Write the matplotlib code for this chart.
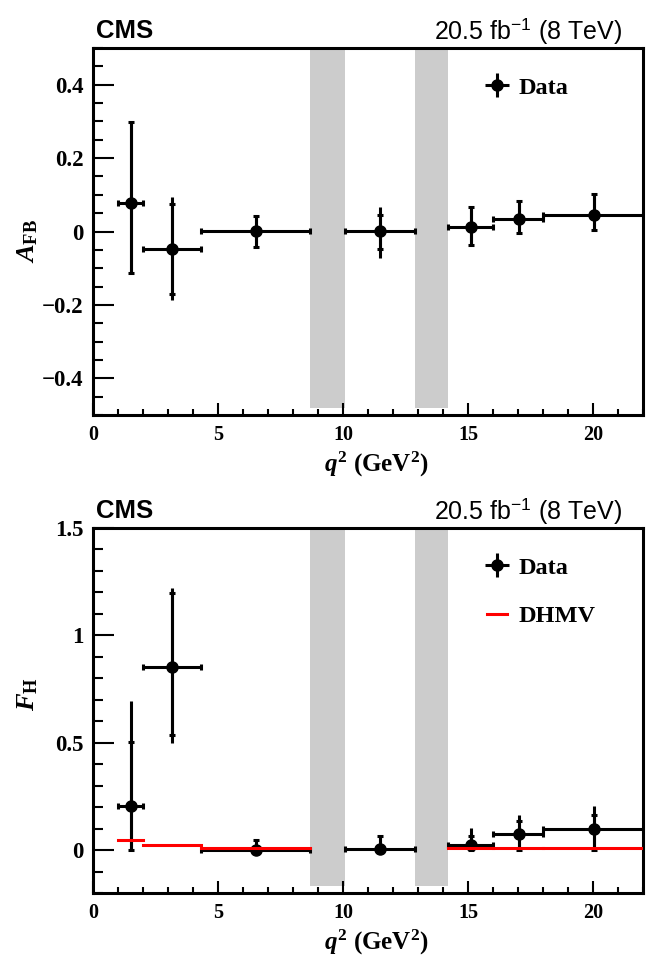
import numpy as np
import matplotlib
matplotlib.use("Agg")
import matplotlib.pyplot as plt
from matplotlib.ticker import MultipleLocator

plt.rcParams['mathtext.fontset'] = 'custom'
plt.rcParams['mathtext.rm'] = 'Liberation Serif:bold'
plt.rcParams['mathtext.it'] = 'Liberation Serif:bold:italic'
plt.rcParams['mathtext.bf'] = 'Liberation Serif:bold'
plt.rcParams['mathtext.sf'] = 'Liberation Sans'
plt.rcParams['axes.unicode_minus'] = True

# ---------------- data ----------------
q2_lo = [1.0, 2.0, 4.3, 10.09, 14.18, 16.0, 18.0]
q2_hi = [2.0, 4.3, 8.68, 12.86, 16.0, 18.0, 22.0]
q2_mean = [1.50, 3.16, 6.51, 11.49, 15.12, 17.04, 20.04]

veto_lo = [8.68, 12.86]
veto_hi = [10.09, 14.18]

afb = [0.077, -0.047, 0.001, 0.001, 0.012, 0.035, 0.045]
afb_tot_up = [0.221, 0.142, 0.041, 0.065, 0.054, 0.048, 0.056]
afb_tot_dn = [0.191, 0.141, 0.044, 0.073, 0.049, 0.039, 0.042]
afb_stat_up = [0.221, 0.122, 0.041, 0.045, 0.054, 0.048, 0.056]
afb_stat_dn = [0.191, 0.123, 0.044, 0.050, 0.049, 0.039, 0.042]

fh = [0.206, 0.851, 0.0, 0.005, 0.025, 0.074, 0.100]
fh_tot_up = [0.487, 0.368, 0.046, 0.061, 0.077, 0.088, 0.106]
fh_tot_dn = [0.206, 0.354, 0.0, 0.005, 0.025, 0.074, 0.100]
fh_stat_up = [0.297, 0.345, 0.046, 0.061, 0.039, 0.061, 0.062]
fh_stat_dn = [0.206, 0.313, 0.0, 0.005, 0.025, 0.074, 0.100]

dhmv = [0.046, 0.023, 0.010, np.nan, 0.008, 0.008, 0.008]

lumi_text = r'20.5 fb$^{\mathsf{-1}}$ (8 TeV)'

# ---------------- style ----------------
W, H = 646, 960
fig = plt.figure(figsize=(W / 100, H / 100), dpi=100)
ax1 = fig.add_axes([93 / W, 1 - 415 / H, 550 / W, 367 / H])
ax2 = fig.add_axes([93 / W, 1 - 893 / H, 550 / W, 365 / H])

SERIF = 'Liberation Serif'
SANS = 'Liberation Sans'
LW = 2.2
GRAY = '#cccccc'
LEGPROP = {'family': SERIF, 'weight': 'bold', 'size': 17.5}

x = np.array(q2_mean)
xerr = [x - np.array(q2_lo), np.array(q2_hi) - x]


def fmt_tick(v, pos):
    if abs(v) < 1e-9:
        return '0'
    s = '%g' % round(v, 3)
    return s.replace('-', '\u2212')


def style_axes(ax, ylim, ymaj, ymin):
    ax.set_xlim(0, 22)
    ax.set_ylim(*ylim)
    ax.xaxis.set_major_locator(MultipleLocator(5))
    ax.xaxis.set_minor_locator(MultipleLocator(1))
    ax.yaxis.set_major_locator(MultipleLocator(ymaj))
    ax.yaxis.set_minor_locator(MultipleLocator(ymin))
    ax.xaxis.set_major_formatter(plt.FuncFormatter(fmt_tick))
    ax.yaxis.set_major_formatter(plt.FuncFormatter(fmt_tick))
    for s in ax.spines.values():
        s.set_linewidth(LW)
    ax.tick_params(axis='both', which='both', direction='in', top=False, right=False,
                   width=1.5)
    ax.tick_params(axis='x', which='major', length=8.6, pad=7, labelsize=14.5)
    ax.tick_params(axis='x', which='minor', length=4.3)
    ax.tick_params(axis='y', which='major', length=15, pad=7, labelsize=16.5)
    ax.tick_params(axis='y', which='minor', length=7.2)
    for lab in ax.get_xticklabels() + ax.get_yticklabels():
        lab.set_fontfamily(SERIF)
        lab.set_fontweight('bold')
    ax.set_xlabel(r'$q^2$ (GeV$^2$)', fontsize=18, fontfamily=SERIF, fontweight='bold')
    ax.xaxis.set_label_coords(0.515, -0.095)


def draw_panel(ax, vals, tdn, tup, sdn, sup):
    for lo, hi in zip(veto_lo, veto_hi):
        ax.axvspan(lo, hi, ymin=0.02, ymax=1.0, color=GRAY, lw=0, zorder=1)
    ax.errorbar(x, vals, yerr=[tdn, tup], fmt='none', ecolor='k', elinewidth=LW,
                capsize=0, zorder=3)
    ax.errorbar(x, vals, xerr=xerr, yerr=[sdn, sup], fmt='o', color='k',
                ms=8, elinewidth=LW, capsize=2.2, capthick=LW, zorder=4)
    # legend proxy (no visible point)
    proxy = ax.errorbar([np.nan], [np.nan], xerr=[[1], [1]], yerr=[[1], [1]], fmt='o',
                        color='k', ms=8, elinewidth=LW, capsize=0, label='Data')
    return proxy


# ---- top panel ----
style_axes(ax1, (-0.5, 0.5), 0.2, 0.05)
p1 = draw_panel(ax1, afb, afb_tot_dn, afb_tot_up, afb_stat_dn, afb_stat_up)
ax1.set_ylabel(r'$A_{\mathrm{FB}}$', fontsize=19)
ax1.yaxis.set_label_coords(-0.12, 0.474)
ax1.yaxis.label.set_va('center')
ax1.legend(handles=[p1], loc='upper left', bbox_to_anchor=(0.695, 0.955),
           frameon=False, handlelength=0.8, handletextpad=0.5, borderpad=0,
           prop=LEGPROP)

# ---- bottom panel ----
style_axes(ax2, (-0.2, 1.5), 0.5, 0.1)
p2 = draw_panel(ax2, fh, fh_tot_dn, fh_tot_up, fh_stat_dn, fh_stat_up)
dh_line = None
for lo, hi, v in zip(q2_lo, q2_hi, dhmv):
    if np.isnan(v):
        continue
    ln, = ax2.plot([lo, hi], [v, v], color='red', lw=LW, zorder=5)
    if dh_line is None:
        dh_line = ln
        ln.set_label('DHMV')
ax2.set_ylabel(r'$F_{\mathrm{H}}$', fontsize=19)
ax2.yaxis.set_label_coords(-0.12, 0.545)
ax2.yaxis.label.set_va('center')
ax2.legend(handles=[p2, dh_line], loc='upper left', bbox_to_anchor=(0.695, 0.955),
           frameon=False, handlelength=0.8, handletextpad=0.5, borderpad=0,
           labelspacing=1.1, prop=LEGPROP)

# ---- header texts ----
for top_px in (48, 528):
    fig.text(96 / W, 1 - (top_px - 10) / H, 'CMS', fontfamily=SANS, fontweight='bold',
             fontsize=18.5, ha='left', va='baseline')
    fig.text(622 / W, 1 - (top_px - 9) / H, lumi_text, fontfamily=SANS,
             fontsize=18, ha='right', va='baseline')

fig.savefig('out.png', dpi=100)
